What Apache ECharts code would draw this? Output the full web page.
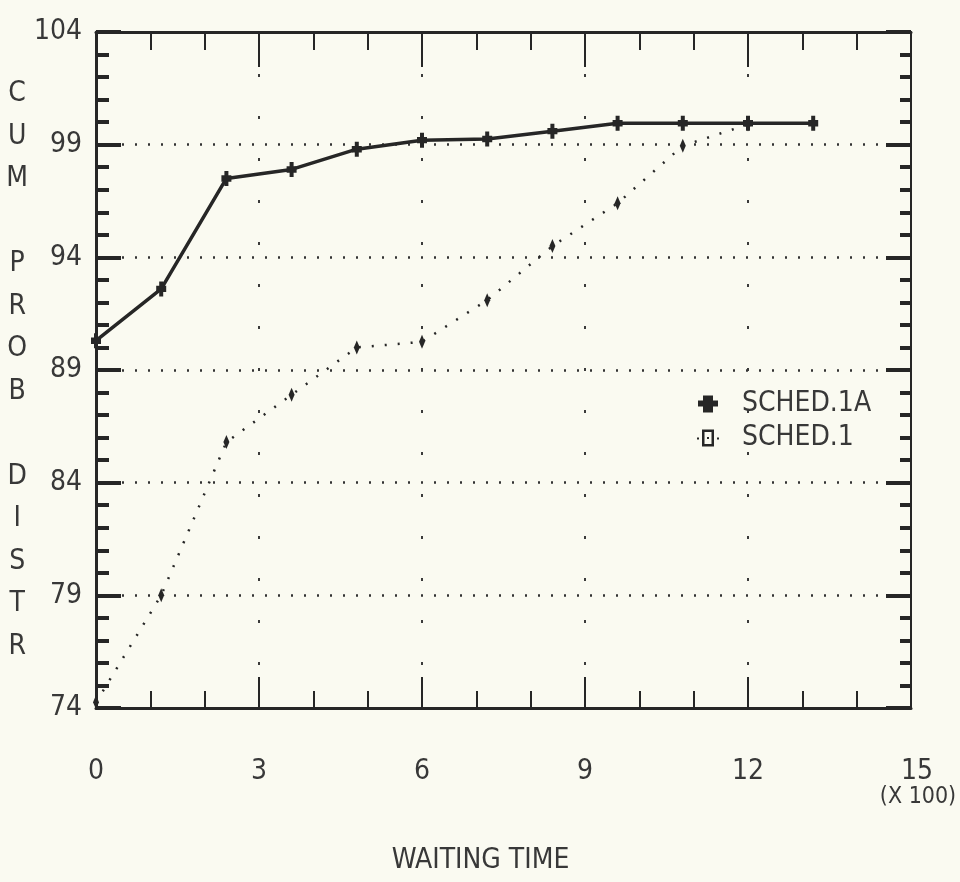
<!DOCTYPE html>
<html>
<head>
<meta charset="utf-8">
<script src="https://cdn.jsdelivr.net/npm/echarts@6/dist/echarts.min.js"></script>
<style>
html,body{margin:0;padding:0;background:#fafaf1;overflow:hidden;}
#chart{width:960px;height:882px;}
</style>
</head>
<body>
<div id="chart"></div>
<script>
// Waiting time (x 100)
const waitingTime = [0, 1.2, 2.4, 3.6, 4.8, 6.0, 7.2, 8.4, 9.6, 10.8, 12.0, 13.2];
// Cumulative probability distribution (%)
const sched1A = [90.3, 92.6, 97.5, 97.9, 98.8, 99.2, 99.25, 99.6, 99.95, 99.95, 99.95, 99.95];
const sched1  = [74.25, 79.0, 85.8, 87.9, 90.0, 90.25, 92.1, 94.5, 96.4, 98.95, 99.9];
const seriesNames = ['SCHED.1A', 'SCHED.1'];
const xTitle = 'WAITING TIME';
const yTitle = ['C','U','M','','P','R','O','B','','D','I','S','T','R'];
const xUnitNote = '(X 100)';

const FONT = "'Liberation Sans Narrow', 'DejaVu Sans Condensed', sans-serif";
const INK = '#262626';
const TXT = '#383838';

const plusPath = 'path://M5,0 H15 V5 H20 V11 H15 V17 H5 V11 H0 V5 H5 Z';
const ringPath = 'path://M5,0 H17 V17 H5 Z M7.5,2.5 V14.5 H14.5 V2.5 Z M10,7.5 H12 V9.5 H10 Z M0,8 H2 V10 H0 Z M20,8 H22 V10 H20 Z';
const markerPlus = 'path://M3,0 H7 V4 H10 V10 H7 V14 H3 V10 H0 V4 H3 Z';

const chart = echarts.init(document.getElementById('chart'), null, {renderer: 'canvas'});

const baseX = {type: 'value', min: 0, max: 15, interval: 3};
const baseY = {type: 'value', min: 74, max: 104, interval: 5};

chart.setOption({
  backgroundColor: '#fafaf1',
  animation: false,
  grid: {left: 96, right: 49, top: 32, bottom: 174, containLabel: false, outerBoundsMode: 'none'},
  legend: {
    orient: 'vertical',
    left: 697, top: 390,
    itemWidth: 22, itemHeight: 17, itemGap: 6,
    padding: 0,
    textStyle: {fontFamily: FONT, fontSize: 28, color: TXT, padding: [0, 0, 0, 18]},
    data: [
      {name: seriesNames[0], icon: plusPath, itemStyle: {color: INK}},
      {name: seriesNames[1], icon: ringPath, itemStyle: {color: INK}}
    ]
  },
  xAxis: [
    Object.assign({}, baseX, {
      position: 'bottom',
      name: xTitle, nameLocation: 'middle', nameGap: 139,
      nameTextStyle: {fontFamily: FONT, fontSize: 28, color: TXT, padding: [0, 46, 0, 0]},
      axisLine: {show: true, onZero: false, lineStyle: {color: INK, width: 3}},
      axisTick: {show: true, inside: true, length: 31, lineStyle: {color: INK, width: 2}},
      minorTick: {show: true, splitNumber: 3, length: 17, lineStyle: {color: INK, width: 2}},
      axisLabel: {
        margin: 50, fontFamily: FONT, fontSize: 28, color: TXT,
        formatter: function (v) { return v === 15 ? '{a|15}\n{s|' + xUnitNote + '}' : String(v); },
        rich: {
          a: {fontFamily: FONT, fontSize: 28, color: TXT, padding: [0, 0, 0, 12]},
          s: {fontFamily: FONT, fontSize: 23, color: TXT, padding: [0, 0, 0, 14]}
        }
      },
      splitLine: {show: true, lineStyle: {color: '#3a3a3a', width: 2, type: [3, 39]}}
    }),
    Object.assign({}, baseX, {
      position: 'top',
      axisLine: {show: true, onZero: false, lineStyle: {color: INK, width: 3}},
      axisTick: {show: true, inside: true, length: 35, lineStyle: {color: INK, width: 2}},
      minorTick: {show: true, splitNumber: 3, length: 18, lineStyle: {color: INK, width: 2}},
      axisLabel: {show: false},
      splitLine: {show: false}
    })
  ],
  yAxis: [
    Object.assign({}, baseY, {
      position: 'left',
      name: yTitle.join('\n'), nameLocation: 'middle', nameGap: 78, nameRotate: 0,
      nameTextStyle: {fontFamily: FONT, fontSize: 28, color: TXT, lineHeight: 42.5, align: 'center', verticalAlign: 'middle'},
      axisLine: {show: true, onZero: false, lineStyle: {color: INK, width: 3}},
      axisTick: {show: true, inside: true, length: 25, lineStyle: {color: INK, width: 4}},
      minorTick: {show: true, splitNumber: 5, length: 13, lineStyle: {color: INK, width: 4}},
      axisLabel: {margin: 14, fontFamily: FONT, fontSize: 28, color: TXT},
      splitLine: {show: true, lineStyle: {color: '#333', width: 2.5, type: [2, 11]}}
    }),
    Object.assign({}, baseY, {
      position: 'right',
      axisLine: {show: true, onZero: false, lineStyle: {color: INK, width: 2}},
      axisTick: {show: true, inside: true, length: 25, lineStyle: {color: INK, width: 4}},
      minorTick: {show: true, splitNumber: 5, length: 11, lineStyle: {color: INK, width: 4}},
      axisLabel: {show: false},
      splitLine: {show: false}
    })
  ],
  series: [
    {
      name: seriesNames[1], type: 'line', xAxisIndex: 0, yAxisIndex: 0,
      data: sched1.map((v, i) => [waitingTime[i], v]),
      symbol: 'diamond', symbolSize: [6, 14], showAllSymbol: true,
      itemStyle: {color: INK},
      lineStyle: {color: INK, width: 2.5, type: [2, 11]},
      z: 3
    },
    {
      name: seriesNames[0], type: 'line', xAxisIndex: 0, yAxisIndex: 0,
      data: sched1A.map((v, i) => [waitingTime[i], v]),
      symbol: markerPlus, symbolSize: [10, 15], showAllSymbol: true,
      itemStyle: {color: INK},
      lineStyle: {color: INK, width: 3.5, type: 'solid'},
      z: 4
    }
  ]
});
</script>
</body>
</html>
